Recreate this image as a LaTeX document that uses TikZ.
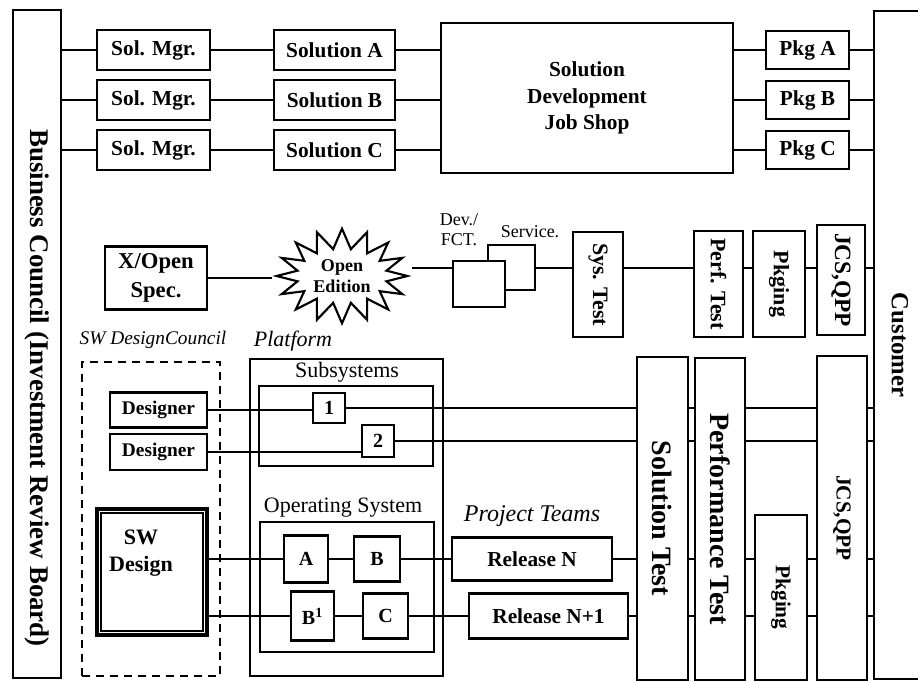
\documentclass[tikz,border=0pt]{standalone}
\usepackage{fontspec}
\setmainfont{Liberation Serif}
\usepackage{graphicx}
\usetikzlibrary{shapes.symbols}
\begin{document}
\begin{tikzpicture}[x=0.75pt,y=-0.75pt,
  box/.style={draw, line width=1.8pt, inner sep=0pt, align=center, font=\bfseries\fontsize{16}{19}\selectfont},
  sz/.style 2 args={minimum width={#1*0.75pt}, minimum height={#2*0.75pt}},
  ln/.style={line width=1.7pt},
  dbox/.style={draw, line width=1.2pt, dash pattern=on 6pt off 4.5pt, inner sep=0pt},
  lbl/.style={inner sep=0pt, align=center},
  itl/.style={inner sep=0pt, font=\itshape\fontsize{16.5}{19}\selectfont},
  reg/.style={inner sep=0pt, font=\fontsize{16.5}{19}\selectfont},
]
\useasboundingbox (0,0) rectangle (918,682);

% ---- side boxes
\node[box, sz={48}{668}] (biz) at (37,344) {};
\node[lbl, font=\bfseries\fontsize{20.2}{22}\selectfont] (bizt) at (37,388) {\rotatebox{-90}{Business Council (Investment Review Board)}};
\node[box, sz={52}{668}, font=\bfseries\fontsize{18.5}{22}\selectfont] (cust) at (900,345) {\rotatebox{-90}{Customer}};

% ---- top rows
\node[box, sz={113}{40}] (sm1) at (153.5,50) {Sol. Mgr.};
\node[box, sz={113}{40}] (sm2) at (153.5,100) {Sol. Mgr.};
\node[box, sz={113}{40}] (sm3) at (153.5,150) {Sol. Mgr.};
\node[box, sz={121}{40}] (sa) at (334.5,50) {Solution A};
\node[box, sz={121}{40}] (sb) at (334.5,100) {Solution B};
\node[box, sz={121}{40}] (sc) at (334.5,150) {Solution C};
\node[box, sz={292}{150}, font=\bfseries\fontsize{16}{20}\selectfont] (js) at (587,98) {Solution\\Development\\Job Shop};
\node[box, sz={83}{38}] (pa) at (807.5,50) {Pkg A};
\node[box, sz={83}{38}] (pb) at (807.5,100) {Pkg B};
\node[box, sz={83}{38}] (pc) at (807.5,150) {Pkg C};

\foreach \s/\t/\p in {sm1/sa/pa, sm2/sb/pb, sm3/sc/pc}{
  \draw[ln] (biz.east |- \s) -- (\s);
  \draw[ln] (\s) -- (\t);
  \draw[ln] (\t) -- (\t -| js.west);
  \draw[ln] (js.east |- \p) -- (\p);
  \draw[ln] (\p) -- (\p -| cust.west);
}

% ---- middle row
\coordinate (ml) at (0,268);
\node[box, sz={102}{63}, font=\bfseries\fontsize{17}{22}\selectfont] (xo) at (156,278) {X/Open\\Spec.};
\node[draw, line width=1.6pt, starburst, starburst points=16, starburst point height=15pt, random starburst=0, minimum width=98pt, minimum height=71pt, inner sep=0pt, align=center, font=\bfseries\fontsize{13.5}{15.5}\selectfont] (oe) at (342,276) {Open\\Edition};
\node[box, sz={47}{45}] (sv) at (511.5,267.5) {};
\node[box, fill=white, sz={52}{46}] (dv) at (479,284) {};
\node[lbl, font=\fontsize{13.5}{15}\selectfont] (dvl) at (459,230) {Dev./\\FCT.};
\node[lbl, font=\fontsize{13.5}{15}\selectfont] (svl) at (530,232) {Service.};
\node[box, sz={50}{105}, font=\bfseries\fontsize{16.5}{20}\selectfont] (sys) at (598,284.5) {\rotatebox{-90}{Sys. Test}};
\node[box, sz={49}{106}, font=\bfseries\fontsize{16.5}{20}\selectfont] (perf) at (718.5,284) {\rotatebox{-90}{Perf. Test}};
\node[box, sz={52}{106}, font=\bfseries\fontsize{16.5}{20}\selectfont] (pk1) at (779,284) {\rotatebox{-90}{Pkging}};
\node[box, sz={48}{110}, font=\bfseries\fontsize{17.5}{20}\selectfont] (jcs1) at (841,280) {\rotatebox{-90}{JCS,QPP}};

\draw[ln] (xo.east) -- (oe.west |- xo.east);
\draw[ln] (oe.east |- ml) -- (dv.west |- ml);
\draw[ln] (sv.east |- ml) -- (sys.west |- ml);
\draw[ln] (sys.east |- ml) -- (perf.west |- ml);
\draw[ln] (perf.east |- ml) -- (pk1.west |- ml);
\draw[ln] (pk1.east |- ml) -- (jcs1.west |- ml);
\draw[ln] (jcs1.east |- ml) -- (cust.west |- ml);

% ---- bottom: council and platform
\node[itl, font=\itshape\fontsize{14.5}{17}\selectfont] (swcl) at (153,340) {SW DesignCouncil};
\node[itl] (platl) at (293,341) {Platform};
\node[dbox, sz={138}{314}] (swc) at (151,519) {};
\node[box, sz={193}{317}] (plat) at (346.5,517.5) {};
\node[reg] (subl) at (347,372) {Subsystems};
\node[box, sz={174}{80}] (subs) at (346,426) {};
\node[reg] (osl) at (343,508) {Operating System};
\node[box, sz={174}{130}] (os) at (347,587) {};

\node[box, sz={97}{35}, font=\bfseries\fontsize{14.5}{17}\selectfont] (d1) at (158.5,410) {Designer};
\node[box, sz={97}{36}, font=\bfseries\fontsize{14.5}{17}\selectfont] (d2) at (158.5,452) {Designer};
\node[box, sz={32}{30}, font=\bfseries\fontsize{15}{17}\selectfont] (b1) at (329,408) {1};
\node[box, sz={32}{32}, font=\bfseries\fontsize{15}{17}\selectfont] (b2) at (378,441) {2};

\node[box, line width=3pt, sz={110}{126}] (sw) at (152,572) {};
\draw[line width=1.2pt] ([shift={(6,6)}]sw.north west) rectangle ([shift={(-6,-6)}]sw.south east);
\node[lbl, font=\bfseries\fontsize{16.5}{20}\selectfont] (swt) at (141,553) {SW\\Design};

\node[box, sz={44}{47}, font=\bfseries\fontsize{15}{17}\selectfont] (na) at (306,559) {A};
\node[box, sz={46}{45}, font=\bfseries\fontsize{15}{17}\selectfont] (nb) at (377,559) {B};
\node[box, sz={43}{49}, font=\bfseries\fontsize{15}{17}\selectfont] (nb1) at (312.5,616) {B\textsuperscript{1}};
\node[box, sz={45}{45}, font=\bfseries\fontsize{15}{17}\selectfont] (nc) at (385.5,616) {C};

\node[itl, font=\itshape\fontsize{18}{20}\selectfont] (ptl) at (532,516) {Project Teams};
\node[box, sz={160}{43}] (rn) at (532,559) {Release N};
\node[box, sz={159}{45}] (rn1) at (548.5,616) {Release N+1};

\node[box, sz={51}{323}, font=\bfseries\fontsize{21}{24}\selectfont] (st) at (662.5,518.5) {\rotatebox{-90}{Solution Test}};
\node[box, sz={50}{322}, font=\bfseries\fontsize{21}{24}\selectfont] (pt) at (720,519) {\rotatebox{-90}{Performance Test}};
\node[box, sz={52}{165}, font=\bfseries\fontsize{16}{20}\selectfont] (pk2) at (781,597.5) {\rotatebox{-90}{Pkging}};
\node[box, sz={50}{324}, font=\bfseries\fontsize{16}{20}\selectfont] (jcs2) at (842,518) {\rotatebox{-90}{JCS,QPP}};

% subsystem lines
\draw[ln] (d1.east) -- (b1.west |- d1.east);
\draw[ln] (d2.east) -- (b2.west |- d2.east);
\foreach \b in {b1,b2}{
  \draw[ln] (\b.east) -- (st.west |- \b.east);
  \draw[ln] (st.east |- \b) -- (pt.west |- \b);
  \draw[ln] (pt.east |- \b) -- (jcs2.west |- \b);
  \draw[ln] (jcs2.east |- \b) -- (cust.west |- \b);
}
% OS lines
\draw[ln] (sw.east |- na) -- (na);
\draw[ln] (na) -- (nb);
\draw[ln] (nb) -- (rn);
\draw[ln] (sw.east |- nb1) -- (nb1);
\draw[ln] (nb1) -- (nc);
\draw[ln] (nc) -- (rn1);
\foreach \r in {rn,rn1}{
  \draw[ln] (\r) -- (\r -| st.west);
  \draw[ln] (st.east |- \r) -- (pt.west |- \r);
  \draw[ln] (pt.east |- \r) -- (pk2.west |- \r);
  \draw[ln] (pk2.east |- \r) -- (jcs2.west |- \r);
  \draw[ln] (jcs2.east |- \r) -- (cust.west |- \r);
}
\end{tikzpicture}
\end{document}
